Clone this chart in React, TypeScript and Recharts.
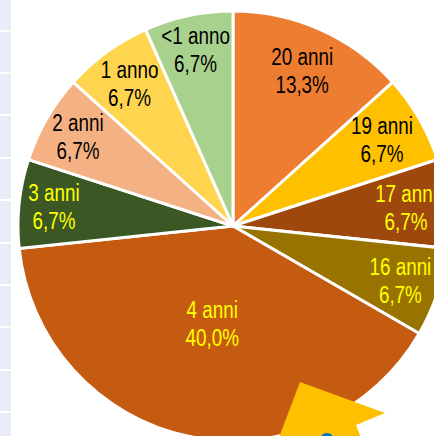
import { PieChart, Pie, Cell } from "recharts"

const categories = ["20 anni", "19 anni", "17 anni", "16 anni", "4 anni", "3 anni", "2 anni", "1 anno", "<1 anno"]
const counts = [2, 1, 1, 1, 6, 1, 1, 1, 1]
const sliceColors = ["#ED7D31", "#FFC000", "#9E480E", "#997300", "#C55A11", "#3A5724", "#F4B183", "#FFD54F", "#A9D18E"]
const labelColors = ["#000000", "#000000", "#FFFF00", "#FFFF00", "#FFFF00", "#FFFF00", "#000000", "#000000", "#000000"]
// distance of each label from the centre, like Excel's "best fit"
const labelDist = [170, 172, 174, 176, 100, 180, 179, 176, 180]

const data = categories.map((name, i) => ({ name, value: counts[i] }))

const RAD = Math.PI / 180
const gridLines = [30, 72, 114, 157, 199, 242, 284, 326, 369, 411]

function renderLabel(props: any) {
  const { cx, cy, midAngle, percent, index } = props
  const d = labelDist[index]
  const x = cx + d * Math.cos(-midAngle * RAD)
  const y = cy + d * Math.sin(-midAngle * RAD)
  const pct = (percent * 100).toFixed(1).replace(".", ",") + "%"
  // reference font is a narrow sans, so squeeze Liberation Sans a bit
  return (
    <text
      transform={`translate(${x} ${y}) scale(0.82 1)`}
      fill={labelColors[index]}
      textAnchor="middle"
      fontFamily="'Liberation Sans', Arial, sans-serif"
      fontSize={23}
    >
      <tspan x={0} y={-14} dominantBaseline="central">{categories[index]}</tspan>
      <tspan x={0} y={14} dominantBaseline="central">{pct}</tspan>
    </text>
  )
}

export default function App() {
  return (
    <div style={{ position: "fixed", left: 0, top: 0, width: 434, height: 436, overflow: "hidden", background: "#fff" }}>
      <div style={{ position: "absolute", left: 0, top: 0, width: 11, height: 436, background: "#E8ECF6" }} />
      {gridLines.map((y) => (
        <div key={y} style={{ position: "absolute", left: 0, top: y, width: 11, height: 2, background: "#fff" }} />
      ))}
      <div style={{ position: "absolute", left: 0, top: 0 }}>
        <PieChart width={434} height={436} margin={{ top: 0, right: 0, bottom: 0, left: 0 }}>
          <Pie
            data={data}
            dataKey="value"
            nameKey="name"
            cx={233}
            cy={226}
            outerRadius={215}
            startAngle={90}
            endAngle={-270}
            stroke="#ffffff"
            strokeWidth={3}
            label={renderLabel}
            labelLine={false}
            isAnimationActive={false}
          >
            {data.map((entry, i) => (
              <Cell key={entry.name} fill={sliceColors[i]} />
            ))}
          </Pie>
        </PieChart>
      </div>
      <svg width={434} height={436} style={{ position: "absolute", left: 0, top: 0, pointerEvents: "none" }}>
        <polygon points="300,382 385,413 356,425 362,440 278,440" fill="#FFC000" />
        <circle cx={327} cy={440} r={7} fill="#0070C0" />
      </svg>
    </div>
  )
}
